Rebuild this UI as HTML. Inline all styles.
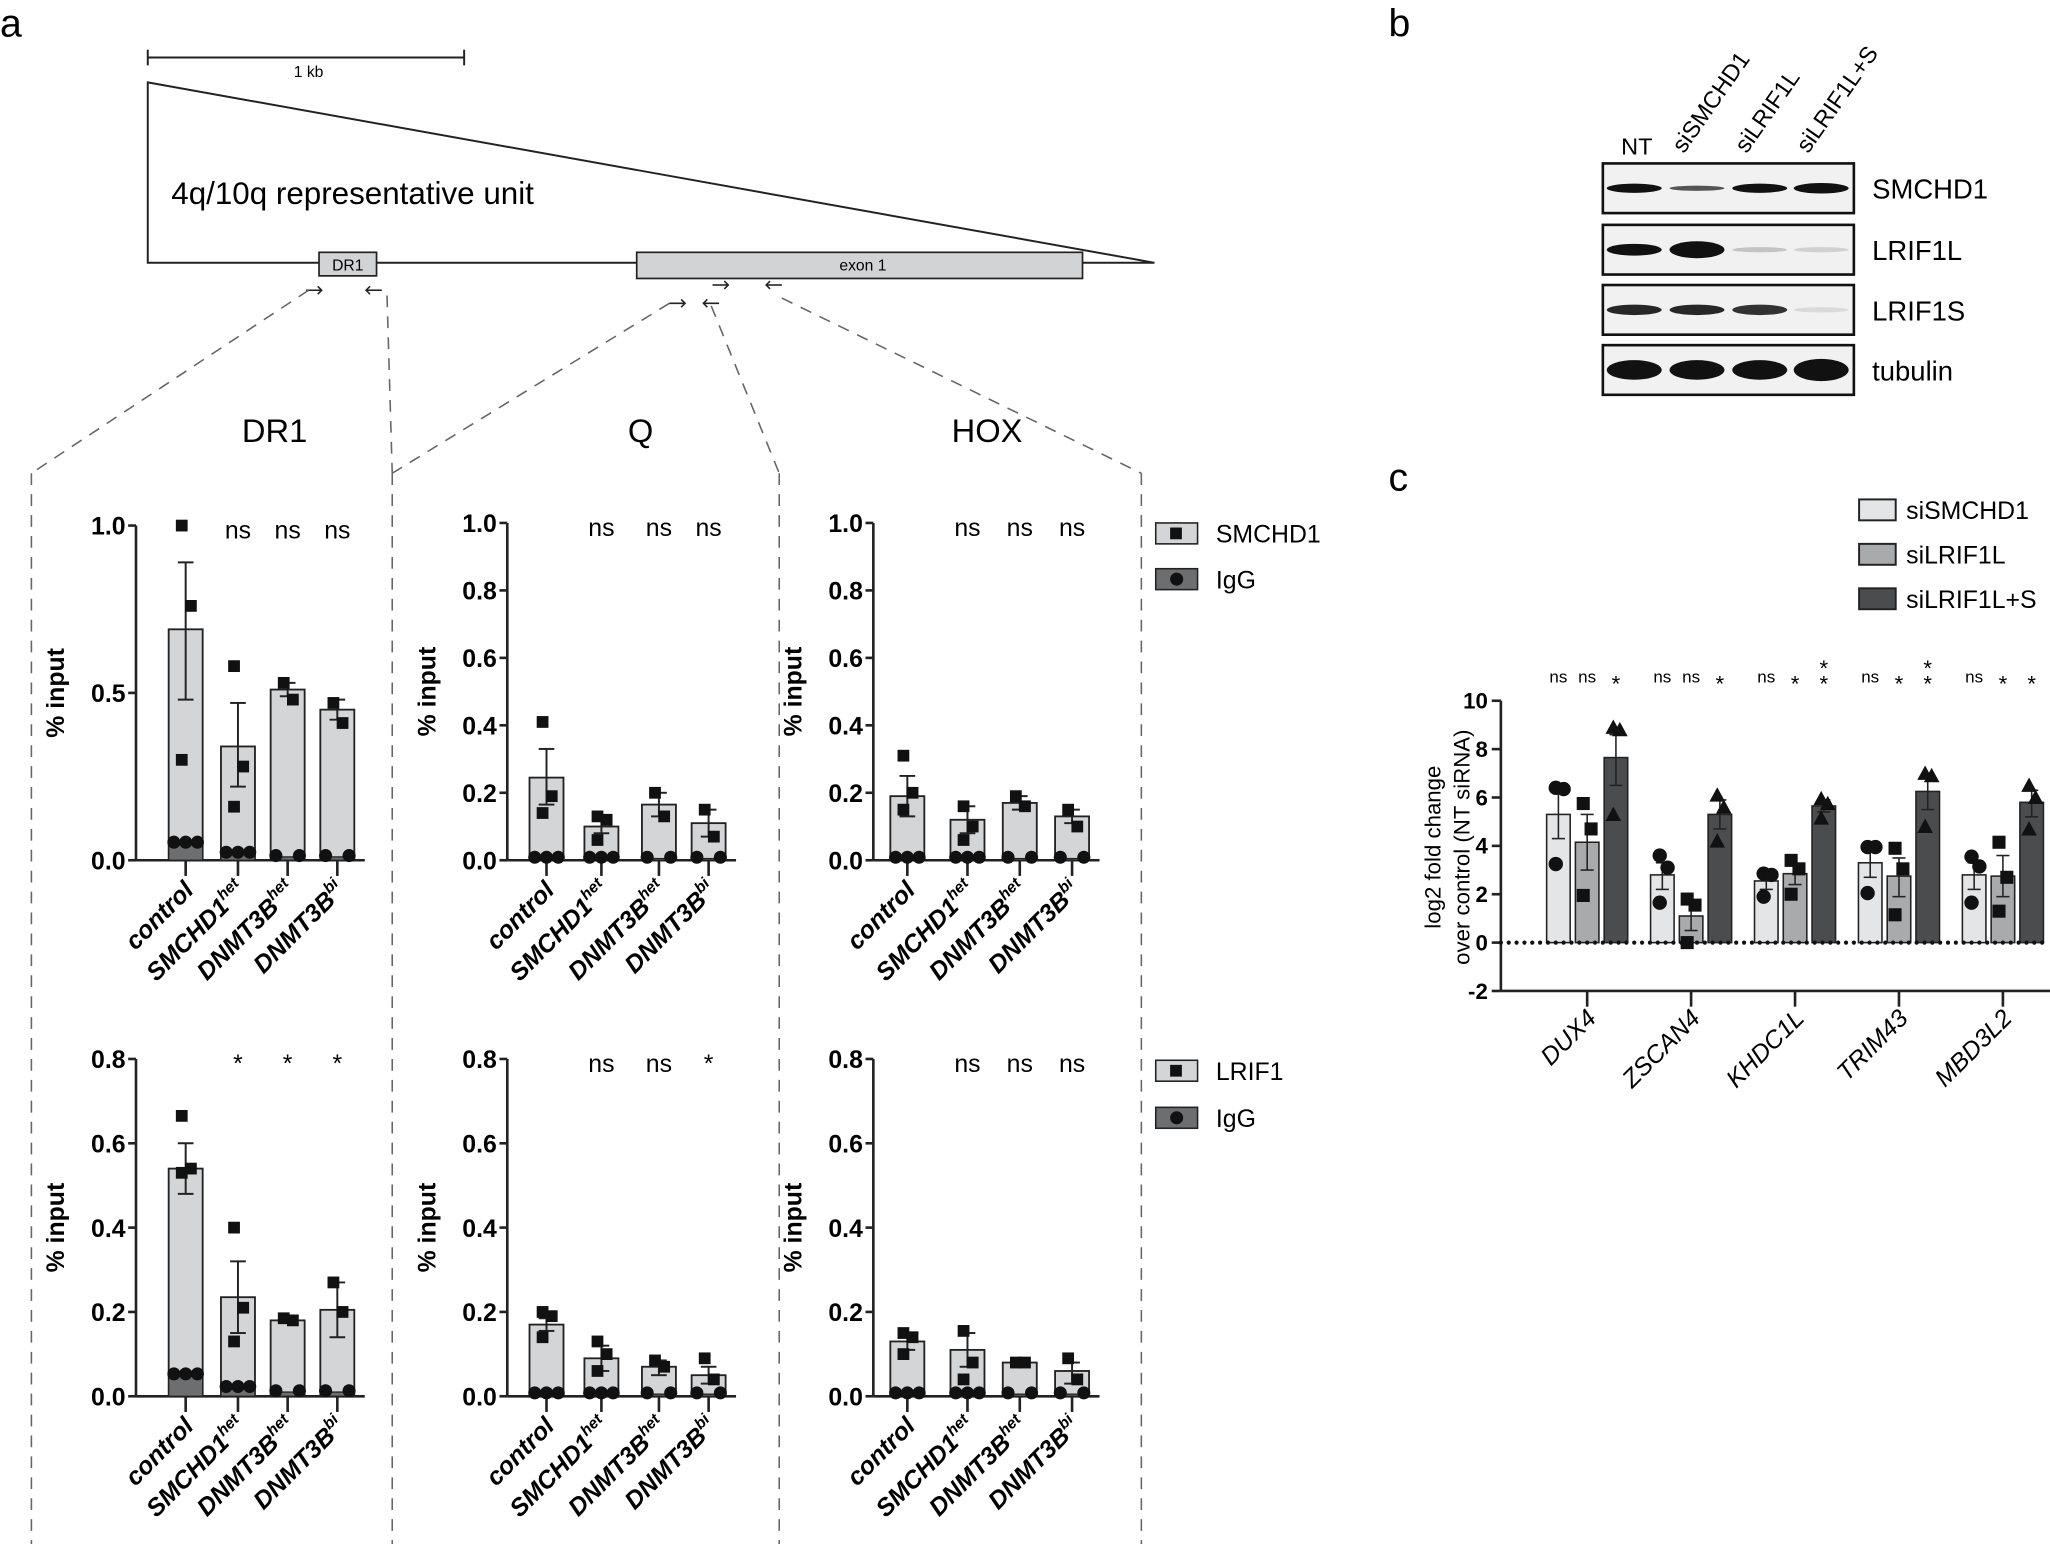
<!DOCTYPE html>
<html><head><meta charset="utf-8"><style>html,body{margin:0;padding:0;background:#fff}svg{display:block}</style></head>
<body>
<svg id="s" xmlns="http://www.w3.org/2000/svg" width="2050" height="1544" viewBox="0 0 1568 1181" font-family="Liberation Sans, Arial, sans-serif">
<rect width="1568" height="1181" fill="#fff"/>
<g id="g"></g>
</svg>
<script>
const g=document.getElementById('g');let h='';
const N='font-family="Liberation Sans Narrow, Liberation Sans, sans-serif"';
function T(x,y,t,o){h+=`<text x="${x}" y="${y}" ${o||''}>${t}</text>`;}
function L(x1,y1,x2,y2,o){h+=`<line x1="${x1}" y1="${y1}" x2="${x2}" y2="${y2}" stroke="#222" stroke-width="${o||1.5}"/>`;}
function D(x1,y1,x2,y2){h+=`<line x1="${x1}" y1="${y1}" x2="${x2}" y2="${y2}" stroke="#666" stroke-width="1.2" stroke-dasharray="9,7"/>`;}
T(0,28,'a','font-size="30"');T(1062,28,'b','font-size="30"');T(1062,375,'c','font-size="30"');
L(113,44,355,44);L(113,38,113,50);L(355,38,355,50);
T(236,59,'1 kb','font-size="12" text-anchor="middle" '+N);
h+='<polygon points="113,63 883,201 113,201" fill="none" stroke="#222" stroke-width="1.5"/>';
T(131,156,'4q/10q representative unit','font-size="24" '+N);
h+='<rect x="244" y="193" width="44" height="18" fill="#d2d3d5" stroke="#222" stroke-width="1.3"/>';
T(266,207,'DR1','font-size="12" text-anchor="middle" '+N);
h+='<rect x="487" y="193" width="341" height="20" fill="#d2d3d5" stroke="#222" stroke-width="1.3"/>';
T(660,207,'exon 1','font-size="12" text-anchor="middle" '+N);
function arr(x,y,dir){L(x-6,y,x+6,y,1.2);const t=dir>0?x+6:x-6;h+=`<polyline points="${t-3*dir},${y-3} ${t},${y} ${t-3*dir},${y+3}" fill="none" stroke="#222" stroke-width="1.2"/>`;}
arr(240,222,1);arr(286,222,-1);arr(518,232,1);arr(544,232,-1);arr(551,218,1);arr(592,218,-1);
D(236,222,24,362);D(296,226,300,362);D(512,232,300,362);D(544,234,596,362);D(598,228,873,362);
[24,300,596,873].forEach(x=>D(x,362,x,1181));
T(210,338,'DR1','font-size="25" text-anchor="middle" '+N);T(490,338,'Q','font-size="25" text-anchor="middle" '+N);T(755,338,'HOX','font-size="25" text-anchor="middle" '+N);
function panel(ax,y0,ytop,vmax,ticks,cx,bars,igg,err,pts,sig){
 const sc=(y0-ytop)/vmax;const Y=v=>y0-v*sc;const w=26;
 L(ax,ytop,ax,y0,2);L(ax,y0,cx[3]+w/2+8,y0,2);
 ticks.forEach(t=>{L(ax-6,Y(t),ax,Y(t),2);T(ax-8,Y(t)+7,t.toFixed(1),'font-size="19" font-weight="bold" text-anchor="end" '+N);});
 T(0,0,'% input',`font-size="19" font-weight="bold" transform="translate(${ax-55},${(y0+ytop)/2}) rotate(-90)" text-anchor="middle"`);
 cx.forEach((x,i)=>{
  L(x,y0,x,y0+12,2);
  h+=`<rect x="${x-w/2}" y="${Y(bars[i])}" width="${w}" height="${bars[i]*sc}" fill="#d4d5d7" stroke="#222" stroke-width="1.4"/>`;
  h+=`<rect x="${x-w/2}" y="${Y(igg[i])}" width="${w}" height="${igg[i]*sc}" fill="#6d6e70" stroke="#222" stroke-width="1"/>`;
  L(x,Y(err[i][0]),x,Y(err[i][1]));L(x-6,Y(err[i][0]),x+6,Y(err[i][0]));L(x-6,Y(err[i][1]),x+6,Y(err[i][1]));
  pts[i].forEach((p,j)=>{const dx=(j%2?4:-3);h+=`<rect x="${x+dx-4.5}" y="${Y(p)-4.5}" width="9" height="9" fill="#111"/>`;});
  const n=i==0||i==1?5:3;const cs=n==5?[-9,0,9]:[-9,9];cs.forEach(d=>h+=`<circle cx="${x+d}" cy="${Y(igg[i])-1}" r="5" fill="#111"/>`);
  if(i>0)T(x,ytop+10,sig[i-1],'font-size="19" text-anchor="middle" '+N);
  const lab=['control','SMCHD1<tspan font-size="12" dy="-8">het</tspan>','DNMT3B<tspan font-size="12" dy="-8">het</tspan>','DNMT3B<tspan font-size="12" dy="-8">bi</tspan>'][i];
  T(0,0,lab,`font-size="19" font-weight="bold" font-style="italic" text-anchor="end" transform="translate(${x+7},${y0+24}) rotate(-45)"`);
 });
}
const cT=[142,182,220,258],cQ=[418,460,504,542],cH=[694,740,780,820];
const t1=[0,0.2,0.4,0.6,0.8,1.0],t2=[0,0.2,0.4,0.6,0.8];
panel(104,658,402,1.0,[0,0.5,1.0],cT,[0.69,0.34,0.51,0.45],[0.05,0.02,0.01,0.01],[[0.48,0.89],[0.22,0.47],[0.49,0.53],[0.42,0.48]],[[1.0,0.76,0.3],[0.58,0.28,0.16],[0.53,0.48],[0.47,0.41]],['ns','ns','ns']);
panel(388,658,400,1.0,t1,cQ,[0.245,0.10,0.165,0.11],[0.005,0.005,0.005,0.005],[[0.165,0.33],[0.08,0.12],[0.13,0.2],[0.07,0.15]],[[0.41,0.19,0.14],[0.13,0.12,0.06],[0.2,0.13],[0.15,0.07]],['ns','ns','ns']);
panel(668,658,400,1.0,t1,cH,[0.19,0.12,0.17,0.13],[0.005,0.005,0.005,0.005],[[0.13,0.25],[0.08,0.16],[0.15,0.19],[0.11,0.15]],[[0.31,0.2,0.15],[0.16,0.1,0.06],[0.19,0.16],[0.15,0.1]],['ns','ns','ns']);
panel(104,1068,810,0.8,t2,cT,[0.54,0.235,0.18,0.205],[0.05,0.02,0.01,0.01],[[0.48,0.6],[0.15,0.32],[0.175,0.185],[0.14,0.27]],[[0.665,0.54,0.53],[0.4,0.21,0.13],[0.185,0.18],[0.27,0.2]],['*','*','*']);
panel(388,1068,810,0.8,t2,cQ,[0.17,0.09,0.07,0.05],[0.005,0.005,0.005,0.005],[[0.155,0.185],[0.06,0.12],[0.05,0.085],[0.03,0.07]],[[0.2,0.19,0.14],[0.13,0.1,0.06],[0.085,0.07],[0.09,0.04]],['ns','ns','*']);
panel(668,1068,810,0.8,t2,cH,[0.13,0.11,0.08,0.06],[0.005,0.005,0.005,0.005],[[0.11,0.15],[0.07,0.15],[0.075,0.085],[0.03,0.08]],[[0.15,0.14,0.1],[0.155,0.08,0.04],[0.08,0.08],[0.09,0.04]],['ns','ns','ns']);
function leg(y,lab,fill,mark){h+=`<rect x="884" y="${y}" width="32" height="16" fill="${fill}" stroke="#222" stroke-width="1.2"/>`;
 if(mark=='s')h+=`<rect x="895" y="${y+3.5}" width="9" height="9" fill="#111"/>`;else h+=`<circle cx="900" cy="${y+8}" r="5" fill="#111"/>`;
 T(930,y+15,lab,'font-size="19" '+N);}
leg(400,'SMCHD1','#d4d5d7','s');leg(435,'IgG','#6d6e70','c');leg(811,'LRIF1','#d4d5d7','s');leg(847,'IgG','#6d6e70','c');
const lx=[1250,1298,1346,1393];
T(1252,118,'NT','font-size="18" text-anchor="middle" '+N);
['siSMCHD1','siLRIF1L','siLRIF1L+S'].forEach((t,i)=>T(0,0,t,`font-size="18" ${N} transform="translate(${lx[i+1]-10},118) rotate(-55)"`));
const rows=[[125,'SMCHD1',[[1,7],[0.7,4],[1,7],[1,8]]],[172,'LRIF1L',[[1,9],[1,13],[0.2,4],[0.15,4]]],[218,'LRIF1S',[[0.9,8],[0.9,8],[0.85,8],[0.1,4]]],[264,'tubulin',[[1,15],[1,15],[1,15],[1,17]]]];
rows.forEach(([y,lab,b])=>{h+=`<rect x="1226" y="${y}" width="192" height="38" fill="#f1f1f1" stroke="#111" stroke-width="2"/>`;
 b.forEach(([o,hh],i)=>h+=`<ellipse cx="${lx[i]}" cy="${y+19}" rx="21" ry="${hh/2}" fill="#111" opacity="${o}"/>`);
 T(1432,y+27,lab,'font-size="21" '+N);});
const A=1148,Z=721,U=18.5,Yc=v=>Z-v*U;
L(A,536,A,758,2);L(A,758,1568,758,2);
[10,8,6,4,2,0,-2].forEach(t=>{L(A-7,Yc(t),A,Yc(t),2);T(A-10,Yc(t)+6,t,'font-size="17" font-weight="bold" text-anchor="end"');});
T(0,0,'log2 fold change','font-size="17" text-anchor="middle" transform="translate(1102,648) rotate(-90)"');
T(0,0,'over control (NT siRNA)','font-size="17" text-anchor="middle" transform="translate(1124,648) rotate(-90)"');
const genes=['DUX4','ZSCAN4','KHDC1L','TRIM43','MBD3L2'];
const vals=[[5.3,4.15,7.65],[2.8,1.1,5.3],[2.55,2.85,5.65],[3.3,2.75,6.25],[2.8,2.75,5.8]];
const errs=[[[4.3,6.2],[3.0,5.3],[6.5,8.6]],[[2.2,3.3],[0.5,1.6],[4.7,5.9]],[[2.2,2.8],[2.4,3.2],[5.4,5.9]],[[2.7,3.9],[1.9,3.5],[5.5,6.9]],[[2.2,3.3],[1.9,3.6],[5.2,6.3]]];
const ptsC=[[[6.4,6.35,3.25],[5.75,4.7,1.95]],[[3.6,3.1,1.65],[1.8,1.55,0]],[[2.85,2.8,1.9],[3.4,3.05,2]],[[3.95,3.95,2.05],[3.9,3.05,1.15]],[[3.55,3.15,1.65],[4.15,2.7,1.3]]];
const triC=[[8.9,8.8,5.3],[6.1,5.6,4.2],[5.95,5.75,5.15],[7,6.9,4.8],[6.5,6,4.7]];
const sigC=[['ns','ns','*'],['ns','ns','*'],['ns','*','**'],['ns','*','**'],['ns','*','*']];
const fills=['#e4e5e6','#a9aaac','#4b4c4e'];
genes.forEach((gn,k)=>{const c=1214+k*79.5;L(c,758,c,770,2);
 T(0,0,gn,`font-size="19" font-style="italic" text-anchor="end" transform="translate(${c+8},780) rotate(-45)"`);
 [-22,0,22].forEach((d,j)=>{const x=c+d,v=vals[k][j];
  h+=`<rect x="${x-9}" y="${Yc(v)}" width="18" height="${v*U}" fill="${fills[j]}" stroke="#222" stroke-width="1.2"/>`;
  const e=errs[k][j];L(x,Yc(e[0]),x,Yc(e[1]),1.2);L(x-5,Yc(e[0]),x+5,Yc(e[0]),1.2);L(x-5,Yc(e[1]),x+5,Yc(e[1]),1.2);
  if(j==0)ptsC[k][0].forEach((p,i)=>h+=`<circle cx="${x+(i==1?4:-2)}" cy="${Yc(p)}" r="5.5" fill="#111"/>`);
  if(j==1)ptsC[k][1].forEach((p,i)=>h+=`<rect x="${x+(i==1?3:-3)-5}" y="${Yc(p)-5}" width="10" height="10" fill="#111"/>`);
  if(j==2)triC[k].forEach((p,i)=>{const xx=x+(i==1?3:-2);h+=`<polygon points="${xx-6},${Yc(p)+5} ${xx+6},${Yc(p)+5} ${xx},${Yc(p)-6}" fill="#111"/>`;});
  const s=sigC[k][j];
  if(s=='ns')T(x,522,'ns','font-size="13" text-anchor="middle"');
  else if(s=='*')T(x,529,'*','font-size="17" text-anchor="middle"');
  else{T(x,517,'*','font-size="17" text-anchor="middle"');T(x,529,'*','font-size="17" text-anchor="middle"');}
 });});
for(let x=A;x<1566;x+=6)h+=`<circle cx="${x}" cy="${Z}" r="1.6" fill="#111"/>`;
[['siSMCHD1',fills[0],382],['siLRIF1L',fills[1],416],['siLRIF1L+S',fills[2],450]].forEach(([t,f,y])=>{
 h+=`<rect x="1422" y="${y}" width="28" height="16" fill="${f}" stroke="#222" stroke-width="1.5"/>`;T(1458,y+15,t,'font-size="19"');});
g.innerHTML=h;
</script>
</body></html>
